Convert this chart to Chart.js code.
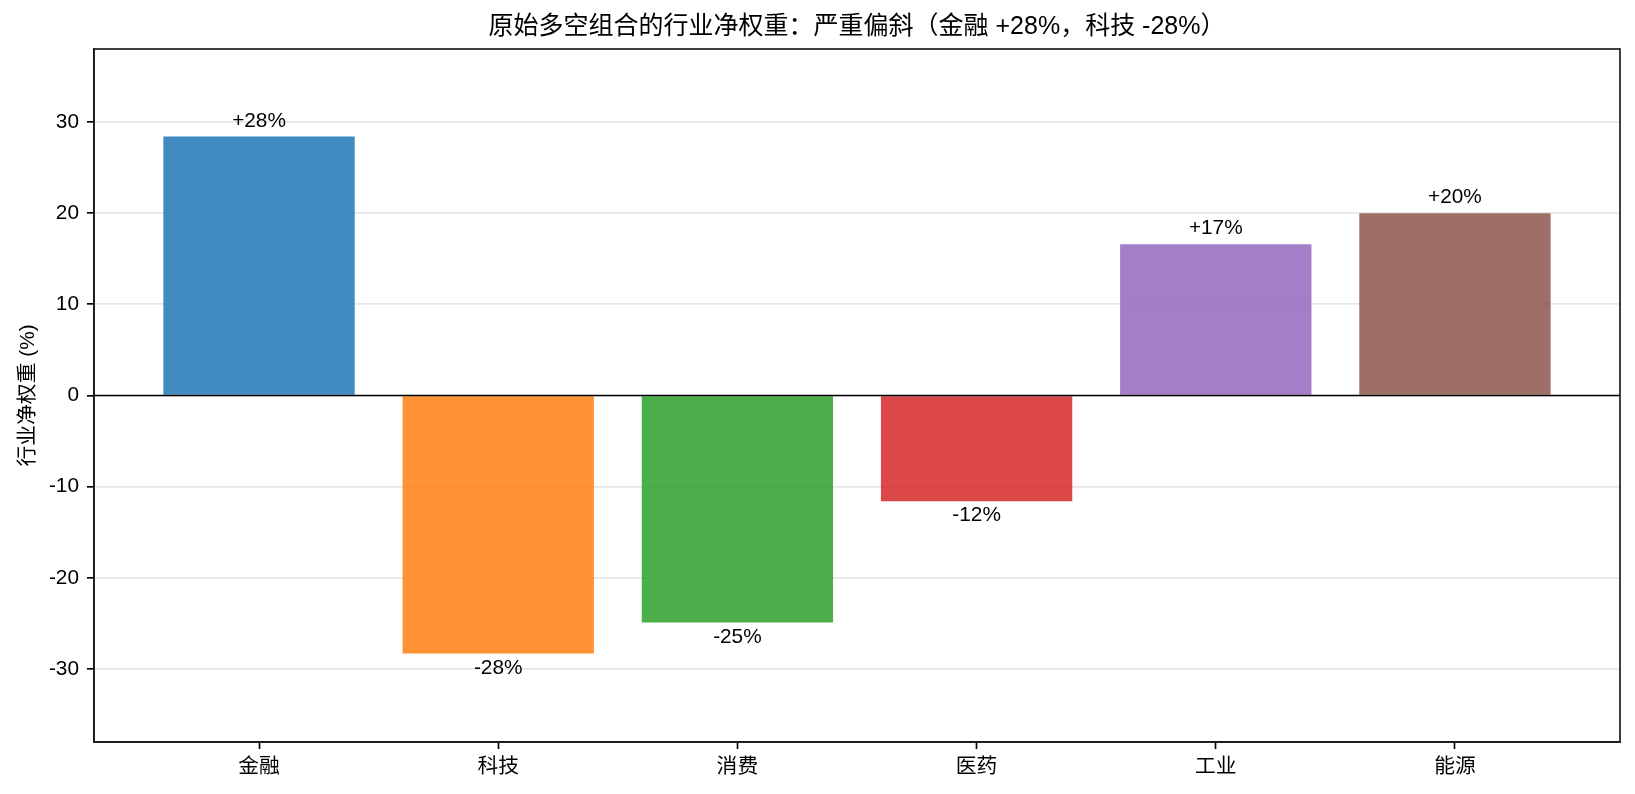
<!DOCTYPE html>
<html>
<head>
<meta charset="utf-8">
<script src="https://cdn.jsdelivr.net/npm/chart.js@4.4.1/dist/chart.umd.min.js"></script>
<style>
html, body { margin: 0; padding: 0; background: #fff; }
#wrap { width: 1635px; height: 794px; }
</style>
</head>
<body>
<div id="wrap"><canvas id="c" width="1635" height="794"></canvas></div>
<script>
const categories = ['金融', '科技', '消费', '医药', '工业', '能源'];
const netWeights = [28.4, -28.3, -24.9, -11.6, 16.6, 20.0];
const barColors = [
  'rgba(31,119,180,0.85)',
  'rgba(255,127,14,0.85)',
  'rgba(44,160,44,0.85)',
  'rgba(214,39,40,0.85)',
  'rgba(148,103,189,0.85)',
  'rgba(140,86,75,0.85)'
];
const yTickValues = [-30, -20, -10, 0, 10, 20, 30];
const titleText = '原始多空组合的行业净权重：严重偏斜（金融 +28%，科技 -28%）';
const yAxisTitle = '行业净权重 (%)';

const FONT = "'Liberation Sans', Arial, 'Noto Sans CJK SC', sans-serif";
const FS = 20.8;

Chart.defaults.color = '#000';
Chart.defaults.font.family = FONT;
Chart.defaults.font.size = FS;

function fmt(v) {
  const r = Math.round(v);
  return (r > 0 ? '+' : '') + r + '%';
}

const decor = {
  id: 'decor',
  afterDatasetsDraw(chart) {
    const ctx = chart.ctx;
    const a = chart.chartArea;
    const y = chart.scales.y;
    ctx.save();
    ctx.strokeStyle = '#000';
    ctx.lineWidth = 1.67;
    const y0 = y.getPixelForValue(0);
    ctx.beginPath();
    ctx.moveTo(a.left, y0);
    ctx.lineTo(a.right, y0);
    ctx.stroke();
    ctx.font = FS + 'px ' + FONT;
    ctx.fillStyle = '#000';
    ctx.textAlign = 'center';
    ctx.textBaseline = 'alphabetic';
    const meta = chart.getDatasetMeta(0);
    meta.data.forEach((bar, i) => {
      const v = netWeights[i];
      const end = bar.y;
      if (v >= 0) {
        ctx.fillText(fmt(v), bar.x, end - 10);
      } else {
        ctx.fillText(fmt(v), bar.x, end + 20);
      }
    });
    ctx.strokeStyle = '#1a1a1a';
    ctx.lineWidth = 1.67;
    ctx.strokeRect(a.left, a.top, a.right - a.left, a.bottom - a.top);
    ctx.font = '25px ' + FONT;
    ctx.textBaseline = 'middle';
    ctx.fillStyle = '#000';
    ctx.fillText(titleText, (a.left + a.right) / 2, 27);
    ctx.restore();
  }
};

new Chart(document.getElementById('c'), {
  type: 'bar',
  data: {
    datasets: [{
      data: categories.map((c, i) => ({ x: i, y: netWeights[i] })),
      backgroundColor: barColors,
      borderWidth: 0,
      barPercentage: 0.8,
      categoryPercentage: 1.0
    }]
  },
  options: {
    responsive: false,
    devicePixelRatio: 1,
    animation: false,
    layout: { padding: { top: 49, right: 15, left: 0, bottom: 0 } },
    plugins: {
      legend: { display: false },
      tooltip: { enabled: false },
      title: { display: false }
    },
    scales: {
      x: {
        type: 'linear',
        offset: false,
        min: -0.69,
        max: 5.69,
        afterBuildTicks(scale) {
          scale.ticks = categories.map((c, i) => ({ value: i }));
        },
        afterFit(scale) { scale.height = 52; },
        ticks: {
          callback: (v) => categories[v],
          padding: 6,
          maxRotation: 0,
          autoSkip: false,
          font: { size: FS }
        },
        grid: {
          offset: false,
          drawOnChartArea: false,
          drawTicks: true,
          tickLength: 7,
          tickWidth: 1.67,
          tickColor: '#000'
        },
        border: { display: true, color: '#1a1a1a', width: 1.67 }
      },
      y: {
        min: -38,
        max: 38,
        afterBuildTicks(scale) {
          scale.ticks = yTickValues.map(v => ({ value: v }));
        },
        afterFit(scale) { scale.width = 94; },
        ticks: {
          padding: 8,
          font: { size: FS },
          callback: (v) => String(v)
        },
        grid: {
          color: '#e7e7e7',
          lineWidth: 1.67,
          tickLength: 7,
          tickWidth: 1.67,
          tickColor: '#000'
        },
        border: { display: true, color: '#1a1a1a', width: 1.67 },
        title: {
          display: true,
          text: yAxisTitle,
          font: { size: FS },
          padding: { top: 16, bottom: 0 }
        }
      }
    }
  },
  plugins: [decor]
});
</script>
</body>
</html>
